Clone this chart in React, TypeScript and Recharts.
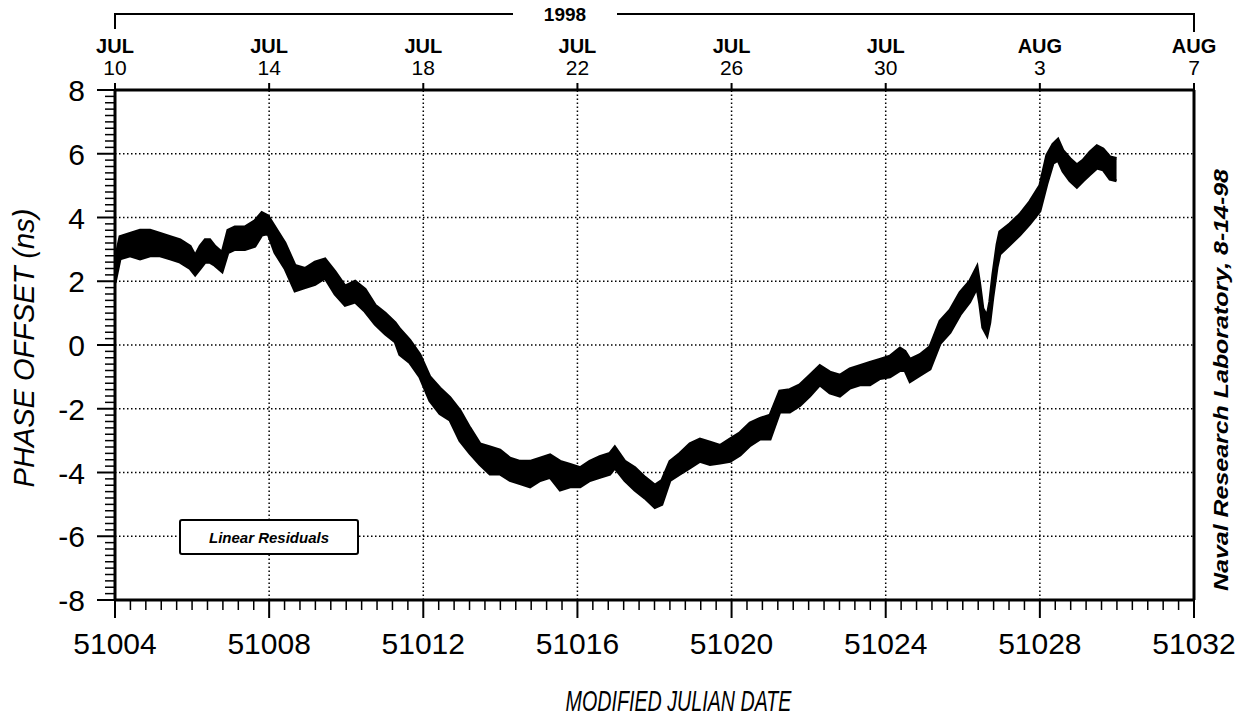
import { Area, ComposedChart, Legend, ReferenceLine, XAxis, YAxis } from 'recharts'

// residual band: day (MJD), lower and upper edge of the trace (ns)
const mjd = [
  51004.0, 51004.13, 51004.39, 51004.65, 51004.91, 51005.17, 51005.43, 51005.69, 51005.95, 51006.08,
  51006.21, 51006.34, 51006.46, 51006.59, 51006.78, 51006.93, 51007.11, 51007.37, 51007.63, 51007.81,
  51007.97, 51008.15, 51008.41, 51008.67, 51008.93, 51009.19, 51009.45, 51009.71, 51009.97, 51010.23,
  51010.49, 51010.75, 51011.01, 51011.27, 51011.39, 51011.65, 51011.91, 51012.17, 51012.43, 51012.69,
  51012.95, 51013.21, 51013.47, 51013.73, 51013.99, 51014.25, 51014.51, 51014.77, 51015.03, 51015.29,
  51015.55, 51015.81, 51016.07, 51016.32, 51016.58, 51016.84, 51016.97, 51017.23, 51017.49, 51017.75,
  51018.01, 51018.19, 51018.4, 51018.66, 51018.92, 51019.18, 51019.44, 51019.7, 51019.96, 51020.22,
  51020.48, 51020.74, 51021.0, 51021.25, 51021.51, 51021.77, 51022.03, 51022.29, 51022.55, 51022.81,
  51023.07, 51023.33, 51023.59, 51023.85, 51024.11, 51024.37, 51024.5, 51024.63, 51024.89, 51025.15,
  51025.41, 51025.67, 51025.93, 51026.18, 51026.37, 51026.44, 51026.52, 51026.63, 51026.7, 51026.78,
  51026.89, 51026.96, 51027.22, 51027.48, 51027.74, 51028.0, 51028.18, 51028.34, 51028.47, 51028.6,
  51028.78, 51028.96, 51029.12, 51029.3, 51029.48, 51029.64, 51029.82, 51029.99,
]
const lo = [
  1.95, 2.7, 2.8, 2.7, 2.8, 2.8, 2.7, 2.6, 2.4, 2.2,
  2.4, 2.6, 2.6, 2.5, 2.3, 2.9, 3.0, 3.0, 3.1, 3.45,
  3.5, 2.9, 2.4, 1.7, 1.8, 1.9, 2.1, 1.6, 1.25, 1.35,
  1.05, 0.65, 0.35, 0.1, -0.3, -0.55, -1.0, -1.75, -2.15, -2.35,
  -3.0, -3.4, -3.75, -4.05, -4.05, -4.25, -4.35, -4.45, -4.25, -4.15,
  -4.55, -4.45, -4.45, -4.25, -4.15, -4.05, -3.85, -4.25, -4.55, -4.8,
  -5.1, -5.0, -4.25, -4.05, -3.85, -3.65, -3.75, -3.7, -3.65, -3.45,
  -3.15, -2.95, -2.95, -2.1, -2.1, -1.9, -1.6, -1.25, -1.5, -1.6,
  -1.35, -1.25, -1.25, -1.05, -1.0, -0.8, -0.8, -1.15, -0.95, -0.75,
  0.05, 0.4, 0.95, 1.35, 1.8, 1.3, 0.55, 0.3, 0.7, 1.5,
  2.45, 2.85, 3.15, 3.45, 3.8, 4.2, 5.05, 5.7, 5.8, 5.45,
  5.15, 4.95, 5.15, 5.35, 5.55, 5.5, 5.2, 5.15,
]
const hi = [
  2.65, 3.4, 3.5, 3.6, 3.6, 3.5, 3.4, 3.3, 3.1, 2.8,
  3.1, 3.3, 3.3, 3.1, 2.9, 3.6, 3.7, 3.7, 3.9, 4.15,
  4.05, 3.7, 3.2, 2.5, 2.4, 2.6, 2.7, 2.3, 1.85, 2.0,
  1.75, 1.25, 1.0, 0.7, 0.5, 0.15, -0.3, -1.0, -1.35, -1.65,
  -2.05, -2.6, -3.1, -3.2, -3.3, -3.55, -3.65, -3.65, -3.55, -3.45,
  -3.65, -3.75, -3.85, -3.65, -3.5, -3.4, -3.2, -3.65, -3.85, -4.15,
  -4.4, -4.25, -3.65, -3.4, -3.1, -2.95, -3.05, -3.15, -2.95, -2.75,
  -2.45, -2.3, -2.2, -1.45, -1.4, -1.25, -0.95, -0.65, -0.85, -0.95,
  -0.75, -0.65, -0.55, -0.45, -0.35, -0.1, -0.2, -0.45, -0.3, -0.05,
  0.75, 1.1, 1.65, 2.0, 2.45, 1.9, 1.15, 0.9, 1.35, 2.2,
  3.15, 3.55, 3.8, 4.1, 4.5, 5.0, 5.95, 6.3, 6.45, 6.1,
  5.85, 5.65, 5.8, 6.05, 6.25, 6.15, 5.9, 5.85,
]

const mjdTicks = [51004, 51008, 51012, 51016, 51020, 51024, 51028, 51032]
const monthLabels = ['JUL', 'JUL', 'JUL', 'JUL', 'JUL', 'JUL', 'AUG', 'AUG']
const dayLabels = ['10', '14', '18', '22', '26', '30', '3', '7']
const yTicks = [-8, -6, -4, -2, 0, 2, 4, 6, 8]
const gridX = [51008, 51012, 51016, 51020, 51024, 51028]
const gridY = [-6, -4, -2, 0, 2, 4, 6]

const data = mjd.map((d, i) => ({ mjd: d, band: [lo[i], hi[i]] }))

const minorX: number[] = []
for (let i = 0; i <= 70; i++) minorX.push(Math.round((51004 + i * 0.4) * 10) / 10)
const minorY: number[] = []
for (let i = 0; i <= 80; i++) minorY.push(Math.round((-8 + i * 0.2) * 10) / 10)

const FONT = "'Liberation Sans', Arial, sans-serif"
const isOn = (v: number, list: number[]) => list.some((t) => Math.abs(t - v) < 1e-6)

function BottomTick(props: any) {
  const { x, y, payload } = props
  const major = isOn(payload.value, mjdTicks)
  return (
    <g>
      <line x1={x} x2={x} y1={y} y2={y + (major ? 18 : 10)} stroke="#000" strokeWidth={major ? 2 : 1.5} />
      {major && (
        <text x={x} y={y + 54} textAnchor="middle" fontSize={30} fontFamily={FONT} fill="#000">
          {payload.value}
        </text>
      )}
    </g>
  )
}

function LeftTick(props: any) {
  const { x, y, payload } = props
  const major = isOn(payload.value, yTicks)
  return (
    <g>
      <line x1={x - (major ? 18 : 10)} x2={x} y1={y} y2={y} stroke="#000" strokeWidth={major ? 2 : 1.5} />
      {major && (
        <text x={x - 30} y={y + 11} textAnchor="end" fontSize={30} fontFamily={FONT} fill="#000">
          {payload.value}
        </text>
      )}
    </g>
  )
}

function TopTick(props: any) {
  const { x, y, index } = props
  return (
    <g>
      <line x1={x} x2={x} y1={y - 7} y2={y} stroke="#000" strokeWidth={2} />
      <text x={x} y={y - 37} textAnchor="middle" fontSize={20} fontWeight="bold" fontFamily={FONT} fill="#000">
        {monthLabels[index]}
      </text>
      <text x={x} y={y - 15} textAnchor="middle" fontSize={21} fontFamily={FONT} fill="#000">
        {dayLabels[index]}
      </text>
    </g>
  )
}

function YearBracket(props: any) {
  const { x, width } = props.viewBox
  const mid = x + 450
  return (
    <g stroke="#000" strokeWidth={2} fill="none">
      <polyline points={`${x},29 ${x},14 ${mid - 52},14`} />
      <polyline points={`${mid + 52},14 ${x + width},14 ${x + width},32`} />
      <text x={mid} y={21} textAnchor="middle" fontSize={19} fontWeight="bold" fontFamily={FONT} fill="#000" stroke="none">
        1998
      </text>
    </g>
  )
}

function YTitle(props: any) {
  const { y, height } = props.viewBox
  const cy = y + height / 2 + 3
  return (
    <text x={24} y={cy} transform={`rotate(-90, 24, ${cy})`} textAnchor="middle" dominantBaseline="central"
      fontSize={29} fontStyle="italic" fontFamily={FONT} fill="#000">
      PHASE OFFSET (ns)
    </text>
  )
}

function XTitle(props: any) {
  const { x, width } = props.viewBox
  return (
    <text x={x + width / 2 + 24} y={711} textAnchor="middle" fontSize={29} fontStyle="italic" fontFamily={FONT}
      fill="#000" textLength={226} lengthAdjust="spacingAndGlyphs">
      MODIFIED JULIAN DATE
    </text>
  )
}

function RightNote(props: any) {
  const { x } = props.viewBox
  const cx = x + 26
  return (
    <text x={cx} y={380} transform={`rotate(-90, ${cx}, 380)`} textAnchor="middle" dominantBaseline="central"
      fontSize={21} fontStyle="italic" fontWeight="bold" fontFamily={FONT} fill="#000"
      textLength={422} lengthAdjust="spacingAndGlyphs">
      Naval Research Laboratory, 8-14-98
    </text>
  )
}

function ResidualsKey(props: any) {
  const name = props.payload?.[0]?.value ?? ''
  return (
    <div style={{
      boxSizing: 'border-box', width: 180, height: 36, border: '2px solid #000', borderRadius: 3,
      display: 'flex', alignItems: 'center', justifyContent: 'center',
      fontFamily: FONT, fontSize: 15, fontStyle: 'italic', fontWeight: 'bold', background: '#fff',
    }}>
      {name}
    </div>
  )
}

export default function App() {
  return (
    <div style={{ position: 'absolute', left: 0, top: 0, background: '#fff' }}>
      <ComposedChart width={1241} height={724} data={data} margin={{ top: 0, right: 0, bottom: 0, left: 0 }}>
        <XAxis xAxisId="top" orientation="top" type="number" dataKey="mjd" domain={[51004, 51032]} allowDataOverflow
          ticks={mjdTicks} interval={0} tick={<TopTick />} tickLine={false} tickSize={0} tickMargin={0} height={90}
          axisLine={{ stroke: '#000', strokeWidth: 3 }} label={{ content: YearBracket }} />
        <XAxis xAxisId="bottom" type="number" dataKey="mjd" domain={[51004, 51032]} allowDataOverflow
          ticks={minorX} interval={0} tick={<BottomTick />} tickLine={false} tickSize={0} tickMargin={0} height={124}
          axisLine={{ stroke: '#000', strokeWidth: 3 }} label={{ content: XTitle }} />
        <YAxis yAxisId="left" type="number" domain={[-8, 8]} allowDataOverflow ticks={minorY} interval={0}
          tick={<LeftTick />} tickLine={false} tickSize={0} tickMargin={0} width={115}
          axisLine={{ stroke: '#000', strokeWidth: 3 }} label={{ content: YTitle }} />
        <YAxis yAxisId="right" orientation="right" type="number" domain={[-8, 8]} allowDataOverflow tick={false}
          tickLine={false} width={47} axisLine={{ stroke: '#000', strokeWidth: 3 }} label={{ content: RightNote }} />
        {gridX.map((g) => (
          <ReferenceLine key={'gx' + g} x={g} xAxisId="bottom" yAxisId="left" stroke="#000" strokeWidth={1.5} strokeDasharray="1.5 2.5" />
        ))}
        {gridY.map((g) => (
          <ReferenceLine key={'gy' + g} y={g} xAxisId="bottom" yAxisId="left" stroke="#000" strokeWidth={1.5} strokeDasharray="1.5 2.5" />
        ))}
        <Area xAxisId="bottom" yAxisId="left" dataKey="band" name="Linear Residuals" type="linear"
          stroke="#000" strokeWidth={3} fill="#000" fillOpacity={1} dot={false} activeDot={false} isAnimationActive={false} />
        <Legend layout="vertical" align="center" verticalAlign="middle" content={<ResidualsKey />}
          wrapperStyle={{ left: 179, top: 519, width: 180, height: 36 }} />
      </ComposedChart>
    </div>
  )
}
